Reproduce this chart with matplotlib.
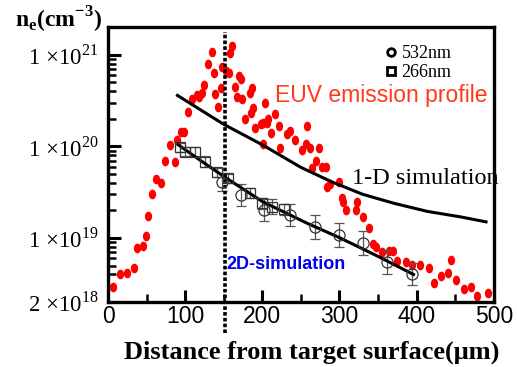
import numpy as np
import matplotlib
matplotlib.use("Agg")
import matplotlib.pyplot as plt
from matplotlib.lines import Line2D
from matplotlib.path import Path
from matplotlib.ticker import LogLocator, NullFormatter

plt.rcParams['mathtext.fontset'] = 'custom'
plt.rcParams['mathtext.rm'] = 'Liberation Serif'
plt.rcParams['mathtext.bf'] = 'Liberation Serif:bold'

# -- DATA -- #
# EUV emission profile (red dots)
euv_x = [7, 16, 25, 34, 37, 45, 49, 52, 57, 62, 69, 74, 80, 87, 89, 95, 99,
         103, 109, 115, 118, 122, 125, 130, 135, 137, 139, 143, 147, 148,
         153, 157, 158, 161, 165, 167, 170, 173, 174, 177, 184, 185, 187,
         188, 190, 198, 201, 201, 204, 206, 208, 211, 217, 221, 223, 232,
         236, 243, 251, 256, 258, 262, 264, 269, 273, 277, 282, 284, 288,
         299, 303, 305, 309, 321, 323, 331, 338, 344, 348, 355, 364, 370,
         375, 386, 394, 405, 416, 423, 431, 441, 445, 451, 461, 470, 478, 493]
euv_y = [2.9e18, 4.0e18, 4.1e18, 4.7e18, 7.8e18, 8.1e18, 1.05e19, 1.75e19,
         3.0e19, 4.4e19, 4.0e19, 7.0e19, 1.03e20, 6.8e19, 1.18e20, 1.45e20,
         1.45e20, 2.4e20, 3.3e20, 3.6e20, 3.5e20, 3.8e20, 4.7e20, 7.9e20,
         1.06e21, 6.3e20, 3.7e20, 2.7e20, 4.3e20, 7.4e20, 6.6e20, 6.3e20,
         1.05e21, 1.25e21, 4.4e20, 3.5e20, 5.8e20, 5.4e20, 3.3e20, 2.0e20,
         3.8e20, 2.3e20, 4.3e20, 2.6e20, 1.58e20, 1.75e20, 1.78e20, 1.06e20,
         3.0e20, 1.82e20, 2.0e20, 1.4e20, 2.27e20, 1.65e20, 9.7e19, 1.38e20,
         1.48e20, 1.18e20, 9.1e19, 1.05e20, 1.65e20, 9.7e19, 5.8e19, 7.0e19,
         9.7e19, 6.0e19, 6.0e19, 3.6e19, 3.9e19, 4.1e19, 2.7e19, 2.5e19,
         2.0e19, 2.0e19, 2.5e19, 1.68e19, 1.28e19, 8.5e18, 8.0e18, 7.1e18,
         7.2e18, 7.2e18, 5.6e18, 5.5e18, 5.1e18, 5.1e18, 4.7e18, 3.25e18,
         3.85e18, 4.1e18, 5.8e18, 3.5e18, 2.8e18, 2.95e18, 2.35e18, 2.5e18]

# 1-D simulation
sim1_x = [90, 120, 150, 200, 250, 290, 330, 370, 414, 457, 490]
sim1_y = [3.6e20, 2.5e20, 1.74e20, 1.04e20, 5.9e19, 4.1e19, 3.0e19, 2.4e19,
          1.95e19, 1.7e19, 1.5e19]

# 2D simulation
sim2_x = [91, 120, 150, 200, 258, 301, 350, 396]
sim2_y = [1.04e20, 7.0e19, 4.7e19, 2.5e19, 1.45e19, 1.0e19, 6.3e18, 4.0e18]

# 266nm (squares)
sq_x = [93, 100, 113, 126, 141, 156, 184, 200, 213, 228]
sq_y = [9.8e19, 8.7e19, 8.7e19, 6.8e19, 5.2e19, 4.5e19, 3.1e19, 2.4e19,
        2.2e19, 2.05e19]
sq_err = [0.05, 0.05, 0.05, 0.06, 0.05, 0.05, 0.05, 0.06, 0.08, 0.06]  # decades

# 532nm (circles)
ci_x = [148, 173, 202, 236, 268, 299, 331, 362, 394]
ci_y = [4.1e19, 2.95e19, 2.0e19, 1.78e19, 1.32e19, 1.07e19, 8.9e18, 5.5e18,
        4.0e18]
ci_err = [0.1, 0.12, 0.12, 0.12, 0.13, 0.13, 0.13, 0.13, 0.12]  # decades


def log_err(y, err):
    y = np.array(y)
    e = np.array(err)
    return [y - y / 10 ** e, y * 10 ** e - y]


fig = plt.figure(figsize=(5.17, 3.67), dpi=100)
ax = fig.add_axes([0.209, 0.177, 0.746, 0.749])

# slightly tall oval marker for the red dots
oval = Path(Path.unit_circle().vertices * [0.75, 1.0], Path.unit_circle().codes)
ax.plot(euv_x, euv_y, ls='none', marker=oval, ms=7, color='#ff0000', mec='none')

ax.errorbar(sq_x, sq_y, yerr=log_err(sq_y, sq_err), fmt='s', mfc='none',
            mec='#333333', ms=7, mew=0.9, ecolor='#555555', elinewidth=0.9,
            capsize=3.5, capthick=0.9)
ax.errorbar(ci_x, ci_y, yerr=log_err(ci_y, ci_err), fmt='o', mfc='none',
            mec='#333333', ms=8, mew=0.9, ecolor='#555555', elinewidth=0.9,
            capsize=3.5, capthick=0.9)

ax.plot(sim1_x, sim1_y, color='black', lw=2.2)
ax.plot(sim2_x, sim2_y, color='black', lw=2.2)

ax.axvline(152, ymin=-0.113, ymax=0.982, color='black', lw=2.6,
           ls=(0, (1, 0.6)), clip_on=False)

ax.set_yscale('log')
ax.set_xlim(0, 500)
ax.set_ylim(2e18, 2e21)

ax.set_xticks([0, 100, 200, 300, 400, 500])
ax.set_xticks([50, 150, 250, 350, 450], minor=True)
ax.set_xticklabels(['0', '100', '200', '300', '400', '500'],
                   family='Liberation Sans', fontsize=16.5)

ax.set_yticks([2e18, 1e19, 1e20, 1e21])
ax.set_yticklabels([r'2 $\times$10$^{18}$', r'1 $\times$10$^{19}$',
                    r'1 $\times$10$^{20}$', r'1 $\times$10$^{21}$'],
                   family='Liberation Serif', fontsize=16.5)
ax.yaxis.set_minor_locator(LogLocator(base=10, subs=np.arange(2, 10)))
ax.yaxis.set_minor_formatter(NullFormatter())

ax.tick_params(which='major', direction='in', length=9, width=2.2,
               top=False, right=False)
ax.tick_params(which='minor', direction='in', length=5.5, width=1.8,
               top=False, right=False)
ax.tick_params(axis='x', pad=2)
ax.tick_params(axis='y', pad=7)
for s in ax.spines.values():
    s.set_linewidth(2.4)

# labels in the plot
ax.text(216, 3.6e20, 'EUV emission profile', color='#ff3a1a',
        family='Liberation Sans', fontsize=16.5, va='center')
ax.text(316, 4.5e19, '1-D simulation', color='black',
        family='Liberation Serif', fontsize=17.5, va='center')
ax.text(153, 5.2e18, '2D-simulation', color='#0000ee',
        family='Liberation Sans', fontsize=13, fontweight='bold', va='center')

handles = [Line2D([], [], ls='none', marker='o', mfc='none', mec='black',
                  mew=2, ms=5.5),
           Line2D([], [], ls='none', marker='s', mfc='none', mec='black',
                  mew=2, ms=5.5)]
ax.legend(handles, ['532nm', '266nm'], loc='upper left',
          bbox_to_anchor=(0.7, 0.96), frameon=False, handlelength=0.6,
          handletextpad=0.3, labelspacing=0.1, borderaxespad=0,
          prop={'family': 'Liberation Serif', 'size': 13})

fig.text(0.029, 0.946, r'n$_{\mathbf{e}}$(cm$^{\mathbf{-3}}$)',
         family='Liberation Serif', fontweight='bold', fontsize=17,
         va='center', ha='left')
fig.text(0.603, 0.041, u'Distance from target surface(\u03bcm)',
         family='Liberation Serif', fontweight='bold', fontsize=19,
         va='center', ha='center')

fig.savefig('out.png', dpi=100)
